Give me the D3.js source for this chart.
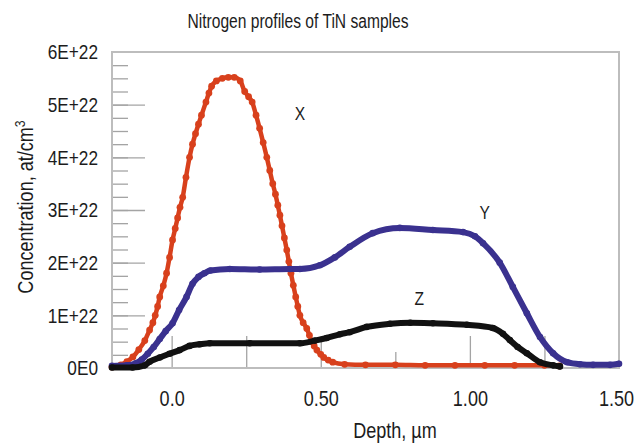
<!DOCTYPE html>
<html>
<head>
	<meta charset="utf-8" />
	<title>Nitrogen profiles of TiN samples</title>
	<script src="https://d3js.org/d3.v7.min.js"></script>
	<style>
		body, html { margin: 0; background: #fff; }
		text { font-family: "Liberation Sans", Arial, sans-serif; fill: #1c1c1c; }
	</style>
</head>
<body>
	<svg id="chart" width="639" height="443"></svg>
	<script>
		// depth (um), concentration (units of 1E+22 at/cm3)
		var seriesX = [
			[-0.20,0.02],[-0.17,0.06],[-0.15,0.12],[-0.13,0.21],[-0.11,0.35],[-0.09,0.52],[-0.074,0.72],
			[-0.063,0.86],[-0.055,1.0],[-0.047,1.17],[-0.04,1.35],[-0.028,1.56],[-0.017,1.8],[-0.007,2.1],
			[0.003,2.43],[0.012,2.65],[0.02,2.85],[0.028,3.05],[0.037,3.24],[0.048,3.62],[0.06,4.0],
			[0.07,4.25],[0.08,4.45],[0.09,4.63],[0.10,4.8],[0.115,5.05],[0.125,5.22],[0.134,5.35],[0.15,5.45],
			[0.17,5.5],[0.19,5.52],[0.21,5.52],[0.23,5.45],[0.245,5.25],[0.258,5.15],[0.27,5.05],[0.283,4.8],
			[0.295,4.55],[0.307,4.28],[0.319,4.0],[0.329,3.75],[0.339,3.5],[0.348,3.3],[0.356,3.09],[0.363,2.9],
			[0.37,2.7],[0.378,2.47],[0.386,2.24],[0.393,2.02],[0.40,1.8],[0.408,1.57],[0.416,1.35],[0.423,1.17],
			[0.43,1.0],[0.441,0.86],[0.453,0.75],[0.462,0.62],[0.47,0.5],[0.478,0.42],[0.487,0.34],[0.50,0.26],
			[0.51,0.2],[0.525,0.15],[0.54,0.11],[0.58,0.07],[0.65,0.06],[0.75,0.06],
			[0.85,0.05],[0.95,0.05],[1.05,0.05],[1.15,0.05],[1.25,0.05],[1.30,0.04]
		];
		var seriesY = [
			[-0.20,0.04],[-0.15,0.05],[-0.12,0.09],[-0.10,0.16],[-0.08,0.27],[-0.06,0.4],[-0.04,0.55],
			[-0.02,0.7],[0.003,0.85],[0.025,1.1],[0.05,1.35],[0.07,1.6],[0.09,1.73],[0.11,1.8],
			[0.13,1.85],[0.195,1.88],[0.295,1.87],[0.396,1.88],[0.43,1.88],[0.497,1.95],[0.547,2.1],
			[0.597,2.3],[0.674,2.56],[0.765,2.66],[0.876,2.62],[0.977,2.58],[1.017,2.5],[1.044,2.37],
			[1.10,2.0],[1.144,1.54],[1.191,1.04],[1.235,0.59],[1.279,0.28],[1.326,0.11],[1.369,0.07],
			[1.413,0.06],[1.47,0.06],[1.50,0.08]
		];
		var seriesZ = [
			[-0.20,0.01],[-0.131,0.01],[-0.09,0.05],[-0.074,0.12],[-0.04,0.2],[-0.007,0.27],[0.027,0.34],
			[0.06,0.42],[0.094,0.45],[0.128,0.47],[0.262,0.47],[0.43,0.47],[0.48,0.52],[0.52,0.57],
			[0.564,0.64],[0.597,0.68],[0.654,0.78],[0.732,0.84],[0.80,0.86],[0.876,0.85],[0.99,0.82],
			[1.077,0.76],[1.111,0.65],[1.134,0.53],[1.16,0.4],[1.191,0.28],[1.235,0.11],[1.279,0.05],[1.302,0.03]
		];
		var seriesNames = ["X", "Y", "Z"];
		var seriesColors = ["#d8401c", "#3a318f", "#111111"];
		var labelPos = [[0.43, 4.7], [1.05, 2.83], [0.83, 1.2]];

		var xTickLabels = [0, 0.5, 1.0, 1.5];
		var xMajorTicks = [0, 0.25, 0.5, 1.0, 1.25];
		var xMinorTicks = [0.75];
		var yMajorTicks = [0, 1e22, 2e22, 3e22, 4e22, 5e22, 6e22];
		var yMinorTicks = d3.range(0, 24).map(function (i) { return i * 0.25e22; });

		var svg = d3.select("#chart");
		var mLeft = 112, mRight = 619, mTop = 52, mBottom = 368;

		var x = d3.scaleLinear().domain([-0.2, 1.5]).range([mLeft, mRight]);
		var y = d3.scaleLinear().domain([0, 6e22]).range([mBottom, mTop]);

		svg.append("text")
			.attr("x", 298).attr("y", 28)
			.attr("text-anchor", "middle")
			.attr("data-squeeze", 0.78)
			.style("font-size", "20px")
			.text("Nitrogen profiles of TiN samples");

		// inner ticks
		svg.append("g").attr("transform", "translate(" + mLeft + ",0)")
			.call(d3.axisRight(y).tickValues(yMinorTicks).tickSize(16).tickFormat(""))
			.call(function (g) { g.select(".domain").remove(); });
		svg.append("g").attr("transform", "translate(" + mLeft + ",0)")
			.call(d3.axisRight(y).tickValues(yMajorTicks.slice(1, 6)).tickSize(33).tickFormat(""))
			.call(function (g) { g.select(".domain").remove(); });
		svg.append("g").attr("transform", "translate(0," + mBottom + ")")
			.call(d3.axisTop(x).tickValues(xMajorTicks).tickSize(32).tickFormat(""))
			.call(function (g) { g.select(".domain").remove(); });
		svg.append("g").attr("transform", "translate(0," + mBottom + ")")
			.call(d3.axisTop(x).tickValues(xMinorTicks).tickSize(16).tickFormat(""))
			.call(function (g) { g.select(".domain").remove(); });
		svg.selectAll(".tick line").attr("stroke", "#a4a4a4").attr("stroke-width", 1.3);

		// frame
		svg.append("rect")
			.attr("x", mLeft).attr("y", mTop)
			.attr("width", mRight - mLeft).attr("height", mBottom - mTop)
			.attr("fill", "none").attr("stroke", "#bdbdbd").attr("stroke-width", 2);

		// tick labels
		var yLab = svg.append("g").attr("transform", "translate(" + mLeft + ",0)")
			.call(d3.axisLeft(y).tickValues(yMajorTicks).tickSize(0).tickPadding(14)
				.tickFormat(function (v) { return v === 0 ? "0E0" : (v / 1e22) + "E+22"; }));
		yLab.select(".domain").remove();
		yLab.selectAll("text").style("font-size", "21px").attr("fill", "#1c1c1c");

		var xLab = svg.append("g").attr("transform", "translate(0," + mBottom + ")")
			.call(d3.axisBottom(x).tickValues(xTickLabels).tickSize(0).tickPadding(22)
				.tickFormat(function (v) { return v === 0 ? "0.0" : d3.format(".2f")(v); }));
		xLab.select(".domain").remove();
		xLab.selectAll("text").style("font-size", "22px").attr("fill", "#1c1c1c");
		xLab.selectAll(".tick").filter(function (d) { return d === 1.5; })
			.select("text").attr("dx", "-3");

		// axis titles
		svg.append("text")
			.attr("x", 395).attr("y", 438)
			.attr("text-anchor", "middle")
			.style("font-size", "22px")
			.text("Depth, \u00b5m");

		var yt = svg.append("text")
			.attr("transform", "translate(33,207) rotate(-90)")
			.attr("text-anchor", "middle")
			.style("font-size", "22px");
		yt.append("tspan").text("Concentration, at/cm");
		yt.append("tspan").attr("dy", "-8").style("font-size", "15px").text("3");

		// series
		var line = d3.line()
			.curve(d3.curveMonotoneX)
			.x(function (d) { return x(d[0]); })
			.y(function (d) { return y(d[1] * 1e22); });

		var all = [seriesX, seriesY, seriesZ];
		all.forEach(function (s, i) {
			svg.append("path")
				.datum(s)
				.attr("d", line)
				.attr("fill", "none")
				.attr("stroke", seriesColors[i])
				.attr("stroke-width", i === 0 ? 4.5 : 6)
				.attr("stroke-linejoin", "round")
				.attr("stroke-linecap", "round");
			svg.append("g").selectAll("circle")
				.data(s)
				.enter().append("circle")
				.attr("cx", function (d) { return x(d[0]); })
				.attr("cy", function (d) { return y(d[1] * 1e22); })
				.attr("r", i === 0 ? 3.4 : 3.3)
				.attr("fill", seriesColors[i]);
		});

		svg.selectAll(".series-label")
			.data(seriesNames)
			.enter().append("text")
			.attr("class", "series-label")
			.attr("x", function (d, i) { return x(labelPos[i][0]); })
			.attr("y", function (d, i) { return y(labelPos[i][1] * 1e22); })
			.attr("text-anchor", "middle")
			.style("font-size", "19px")
			.text(function (d) { return d; });

		// squeeze all text to a narrow face (no condensed font installed)
		svg.selectAll("text").each(function () {
			var k = +this.getAttribute("data-squeeze") || 0.82;
			var w = this.getComputedTextLength();
			d3.select(this).attr("textLength", w * k).attr("lengthAdjust", "spacingAndGlyphs");
		});
	</script>
</body>
</html>
